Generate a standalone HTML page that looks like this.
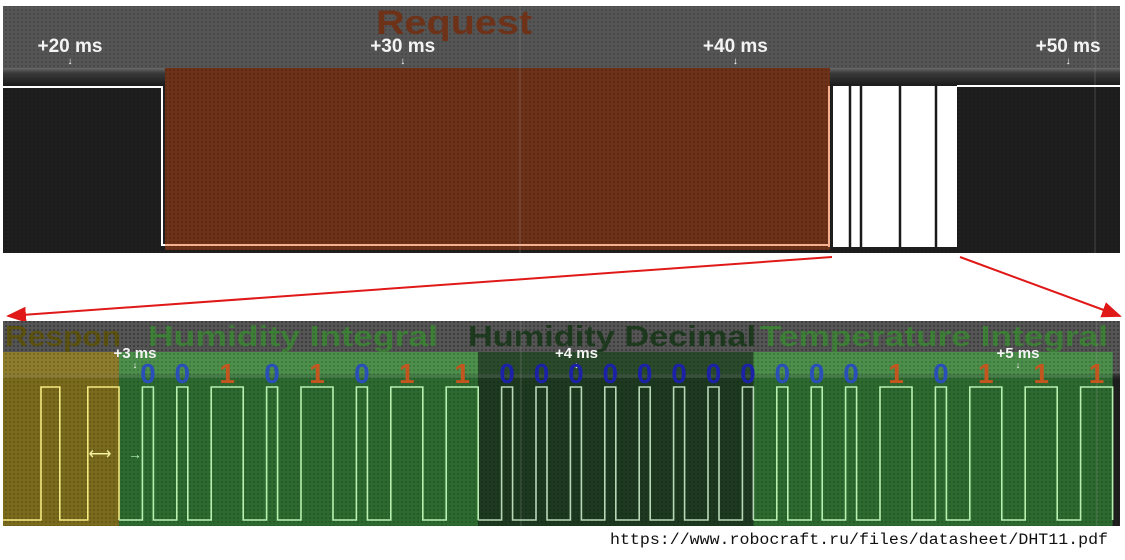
<!DOCTYPE html>
<html><head><meta charset="utf-8">
<style>
html,body{margin:0;padding:0;background:#fff;width:1125px;height:560px;overflow:hidden}
svg{display:block}
text{font-family:"Liberation Sans",sans-serif}
</style></head>
<body>
<svg id="chart" width="1125" height="560" xmlns="http://www.w3.org/2000/svg">
<defs>
<pattern id="dots" width="4" height="4" patternUnits="userSpaceOnUse">
<circle cx="2" cy="2" r="0.9" fill="#000" fill-opacity="0.25"/>
</pattern>
<linearGradient id="band" x1="0" y1="0" x2="0" y2="1">
<stop offset="0" stop-color="#6a6a6a"/><stop offset="0.3" stop-color="#3a3a3a"/><stop offset="1" stop-color="#1c1c1c"/>
</linearGradient>
<marker id="ah" markerWidth="10" markerHeight="8" refX="9" refY="4" orient="auto"><path d="M0,0 L10,4 L0,8 z" fill="#e01818"/></marker>
</defs>

<!-- TOP PANEL -->
<g>
<rect x="3" y="6" width="1117" height="62" fill="#555"/>
<rect x="3" y="6" width="1117" height="62" fill="url(#dots)"/>
<rect x="3" y="68" width="1117" height="17" fill="url(#band)"/>
<rect x="3" y="85" width="1117" height="168" fill="#1e1e1e"/>
<rect x="3" y="85" width="1117" height="168" fill="url(#dots)"/>
<rect x="165" y="68" width="665" height="182" fill="#6e3219"/>
<rect x="165" y="68" width="665" height="182" fill="url(#dots)"/>
<text x="376" y="34" textLength="156" lengthAdjust="spacingAndGlyphs" font-size="34" font-weight="bold" fill="#6e3219">Request</text>
<line x1="520" y1="6" x2="520" y2="253" stroke="#888" stroke-opacity="0.4"/>
<line x1="1095" y1="6" x2="1095" y2="253" stroke="#888" stroke-opacity="0.4"/>
<g id="topTicks"></g>
<polyline points="3,87 162,87 162,245 830,245" fill="none" stroke="#fff" stroke-width="2"/>
<line x1="165" y1="245" x2="829" y2="245" stroke="#f5b090" stroke-width="2"/>
<line x1="829" y1="86" x2="829" y2="247" stroke="#f5b090" stroke-width="2"/>
<rect x="833" y="86" width="124" height="161" fill="#fff"/>
<g stroke="#1a1a1a" stroke-width="2.5">
<line x1="850" y1="86" x2="850" y2="247"/><line x1="861" y1="86" x2="861" y2="247"/>
<line x1="900" y1="86" x2="900" y2="247"/><line x1="936" y1="86" x2="936" y2="247"/>
</g>
<line x1="957" y1="86" x2="1120" y2="86" stroke="#fff" stroke-width="2"/>
</g>

<!-- ZOOM ARROWS -->
<line x1="832" y1="257" x2="8" y2="316" stroke="#e01818" stroke-width="2" marker-end="url(#ah)"/>
<line x1="960" y1="257" x2="1120" y2="316" stroke="#e01818" stroke-width="2" marker-end="url(#ah)"/>

<!-- BOTTOM PANEL -->
<g>
<rect x="3" y="321" width="1117" height="51" fill="#555"/>
<rect x="3" y="321" width="1117" height="51" fill="url(#dots)"/>
<rect x="3" y="372" width="1117" height="8" fill="url(#band)"/>
<rect x="3" y="380" width="1117" height="146" fill="#1e1e1e"/>
<g id="regions"></g>
<rect x="3" y="321" width="1117" height="205" fill="url(#dots)"/>
<line x1="521" y1="321" x2="521" y2="526" stroke="#999" stroke-opacity="0.35"/>
<line x1="1097" y1="321" x2="1097" y2="526" stroke="#999" stroke-opacity="0.35"/>
<g id="botTicks"></g>
<g id="wave"></g>
<g id="bitLabels"></g>
<text x="100" y="459" text-anchor="middle" font-size="16" fill="#f3f0a0">⟷</text>
<text x="135" y="459" text-anchor="middle" font-size="14" fill="#b0f0b0">→</text>
</g>

<text x="610" y="544" textLength="498" lengthAdjust="spacingAndGlyphs" font-size="15.5" fill="#111" style="font-family:'Liberation Mono',monospace">https://www.robocraft.ru/files/datasheet/DHT11.pdf</text>
</svg>

<script>
const topTickLabels = ["+20 ms","+30 ms","+40 ms","+50 ms"];
const topTickMs = [20,30,40,50];
const botTickLabels = ["+3 ms","+4 ms","+5 ms"];
const botTickMs = [3,4,5];
const regionNames = ["Respon","Humidity Integral","Humidity Decimal","Temperature Integral"];
const humidityIntegralBits = [0,0,1,0,1,0,1,1];
const humidityDecimalBits = [0,0,0,0,0,0,0,0];
const temperatureIntegralBits = [0,0,0,1,0,1,1,1];
const responseEdgesUs = [0,95,142,212,290];

const NS = "http://www.w3.org/2000/svg";
function mk(tag, attrs, parent, txt){
  const e=document.createElementNS(NS,tag);
  for(const k in attrs) e.setAttribute(k,attrs[k]);
  if(txt!==undefined) e.textContent=txt;
  parent.appendChild(e); return e;
}
const xTop = ms => 70 + (ms-20)*33.27;
const xBot = ms => 135 + (ms-3)*441.5;
const xUs = us => 3 + us*0.4;
const LOW_US = 58.5, ZERO_US = 27.5, ONE_US = 80;
const yHigh = 387, yLow = 520;

const tt=document.getElementById('topTicks');
topTickLabels.forEach((l,i)=>{
  const x=xTop(topTickMs[i]);
  const t=mk('text',{x:x,y:52,'text-anchor':'middle','font-size':19,'font-weight':'bold',fill:'#f4f4f4'},tt,l);
  
  
  mk('text',{x:x,y:64,'text-anchor':'middle','font-size':10,fill:'#fff'},tt,'↓');
});
const bt=document.getElementById('botTicks');
botTickLabels.forEach((l,i)=>{
  const x=xBot(botTickMs[i]);
  const t=mk('text',{x:x,y:358,'text-anchor':'middle','font-size':15,'font-weight':'bold',fill:'#f4f4f4'},bt,l);
  
  
  mk('text',{x:x,y:368,'text-anchor':'middle','font-size':9,fill:'#fff'},bt,'↓');
});

const groups=[humidityIntegralBits,humidityDecimalBits,temperatureIntegralBits];
let us = responseEdgesUs[responseEdgesUs.length-1];
const respPts=[];
let lvl=0;
responseEdgesUs.forEach((e,i)=>{
  const x=xUs(e);
  if(i===0){respPts.push([x,yLow]);return;}
  respPts.push([x,lvl?yHigh:yLow]); lvl=1-lvl; respPts.push([x,lvl?yHigh:yLow]);
});
respPts[respPts.length-1]=[xUs(us),yLow];
const bounds=[xUs(0)];
const groupPts=[]; const labels=[];
groups.forEach(bits=>{
  bounds.push(xUs(us));
  const pts=[[xUs(us),yLow]];
  bits.forEach(b=>{
    us+=LOW_US; const x1=xUs(us);
    us+= b?ONE_US:ZERO_US; const x2=xUs(us);
    pts.push([x1,yLow],[x1,yHigh],[x2,yHigh],[x2,yLow]);
    labels.push({x:(x1+x2)/2,b:b,dark:bits===humidityDecimalBits});
  });
  groupPts.push(pts);
});
bounds.push(xUs(us));

const reg=document.getElementById('regions');
const bodyCol=["#7a6a1c","#2c6a2f","#1d3920","#2c6a2f"];
const headCol=["#8c7c2c","#4b8f4b","#2a4a2c","#4b8f4b"];
const labelCol=["#5c5212","#3f8038","#1e3a1f","#3f8038"];
const rg=mk('g',{},reg);
regionNames.forEach((n,i)=>{
  const x0=bounds[i], x1=bounds[i+1];
  const r=mk('rect',{x:x0,y:352,width:x1-x0,height:174,fill:bodyCol[i]},rg);
  
  
  mk('rect',{x:x0,y:352,width:x1-x0,height:22,fill:headCol[i]},rg);
  mk('rect',{x:x0,y:374,width:x1-x0,height:4,fill:'#fff','fill-opacity':0.12},rg);
});
const titleX=[5,148,468,760];
const titleW=[116,290,288,348];
regionNames.forEach((n,i)=>{
  const t=mk('text',{x:titleX[i],y:346,textLength:titleW[i],lengthAdjust:'spacingAndGlyphs','font-size':29,'font-weight':'bold',fill:labelCol[i]},reg,n);
  
  
});

const wv=document.getElementById('wave');
const rp=mk('polyline',{points:respPts.map(p=>p.join(',')).join(' '),fill:'none',stroke:'#f3ea80','stroke-width':1.6},wv);


groupPts.forEach((pts,i)=>{
  const pl=mk('polyline',{points:pts.map(p=>p.join(',')).join(' '),fill:'none',stroke:i===1?'#b8d8b8':'#b8f0b0','stroke-width':1.6},wv);
  
  
});
const bl=document.getElementById('bitLabels');
labels.forEach(l=>{
  const t=mk('text',{x:l.x,y:383,'text-anchor':'middle','font-size':28,'font-weight':'bold',fill:l.b?'#c2561e':(l.dark?'#1c22a6':'#2a4fb8')},bl,String(l.b));
  
  
});
</script>
</body></html>
